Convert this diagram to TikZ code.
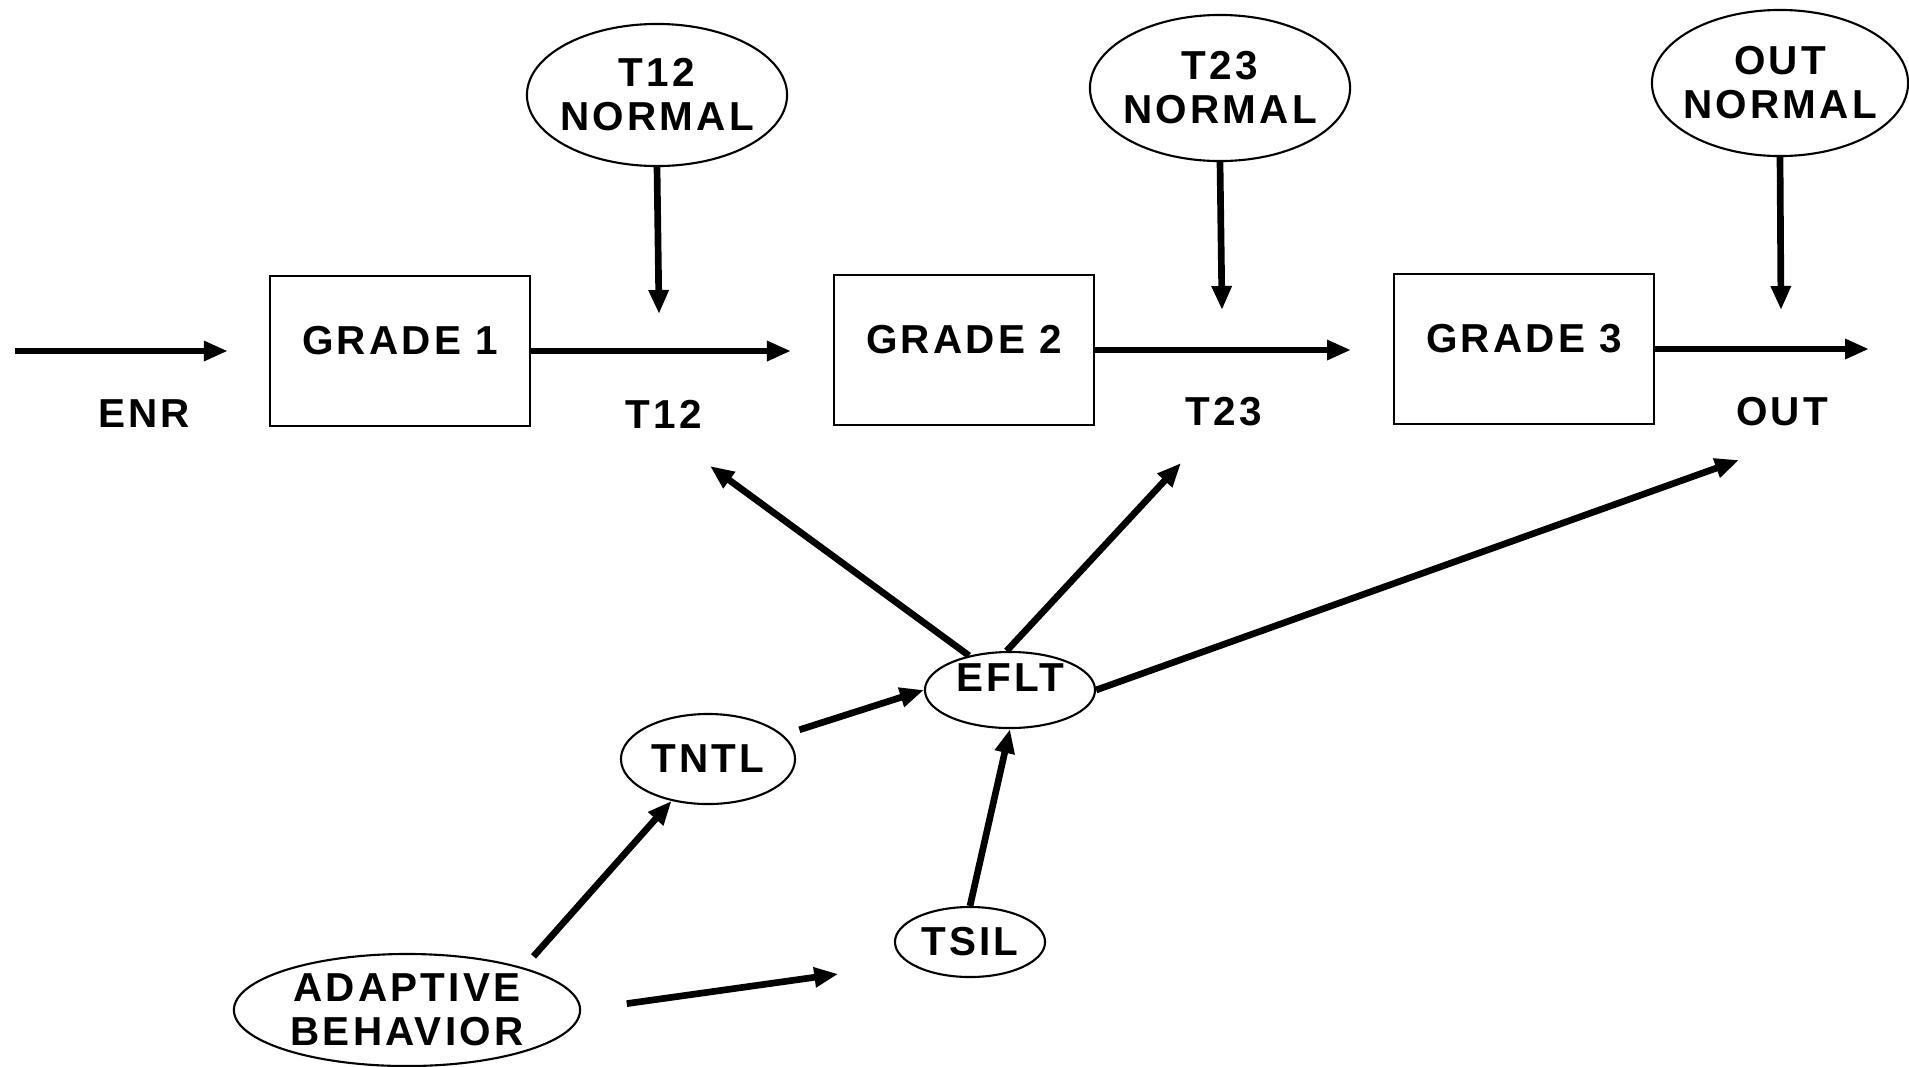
\documentclass[tikz,border=0pt]{standalone}
\usepackage{fontspec}
\setmainfont{Liberation Sans}[LetterSpace=8]
\usetikzlibrary{arrows.meta,shapes.geometric}

\begin{document}
\begin{tikzpicture}[x=0.01cm,y=-0.01cm,
    font=\fontsize{11.5}{12.5}\selectfont\bfseries,
    gradebox/.style={draw,line width=0.6pt,minimum width=2.6cm,minimum height=1.5cm,text depth=0.22cm},
    oval/.style={draw,ellipse,line width=0.6pt,inner sep=-2pt,align=center},
    arr/.style={line width=1.9pt,-{Triangle[length=0.24cm,width=0.19cm]}}]
  \useasboundingbox (0,0) rectangle (1909,1066);
  % grades
  \node[gradebox] (g1) at (400,351) {GRADE 1};
  \node[gradebox] (g2) at (964,350) {GRADE 2};
  \node[gradebox] (g3) at (1524,349) {GRADE 3};
  \node (enr) at (144,414) {ENR};
  \node (t12) at (664,414) {T12};
  \node (t23) at (1224,412) {T23};
  \node (out) at (1782,412) {OUT};
  % norms
  \node[oval,minimum width=2.6cm,minimum height=1.42cm] (n12) at (657,95) {T12\\NORMAL};
  \node[oval,minimum width=2.6cm,minimum height=1.46cm] (n23) at (1220,88) {T23\\NORMAL};
  \node[oval,minimum width=2.56cm,minimum height=1.46cm] (nout) at (1780,83) {OUT\\NORMAL};
  % predictors
  \node[oval,minimum width=1.7cm,minimum height=0.76cm,text depth=0.24cm] (eflt) at (1010,690) {EFLT};
  \node[oval,minimum width=1.74cm,minimum height=0.9cm] (tntl) at (708,759) {TNTL};
  \node[oval,minimum width=1.5cm,minimum height=0.7cm] (tsil) at (970,942) {TSIL};
  \node[oval,minimum width=3.46cm,minimum height=1.12cm] (adapt) at (407,1010) {ADAPTIVE\\BEHAVIOR};
  \coordinate (in) at (15,351);
  \coordinate (e12) at (791,351);
  \coordinate (e23) at (1351,350);
  \coordinate (eout) at (1869,349);
  \coordinate (j12) at (659,314);
  \coordinate (j23) at (1222,310);
  \coordinate (jout) at (1781,310);
  \coordinate (d12) at (710,466);
  \coordinate (d23) at (1181,463);
  \coordinate (dout) at (1739,460);
  % flow
  \draw[arr,shorten >=0.41cm] (in) -- (g1.west);
  \draw[arr] (g1.east) -- (e12);
  \draw[arr] (g2.east) -- (e23);
  \draw[arr] (g3.east) -- (eout);
  \draw[arr] (n12.south) -- (j12);
  \draw[arr] (n23.south) -- (j23);
  \draw[arr] (nout.south) -- (jout);
  % paths
  \draw[arr] (eflt.140) -- (d12);
  \draw[arr] (eflt.95) -- (d23);
  \draw[arr] (eflt.east) -- (dout);
  \draw[arr,shorten <=0.17cm] (tntl) -- (eflt.west);
  \draw[arr] (tsil.north) -- (eflt.south);
  \draw[arr,shorten <=0.15cm] (adapt.20) -- (tntl.229);
  \draw[arr,shorten <=0.46cm,shorten >=0.72cm] (adapt.east) -- (tsil.200);
\end{tikzpicture}
\end{document}
